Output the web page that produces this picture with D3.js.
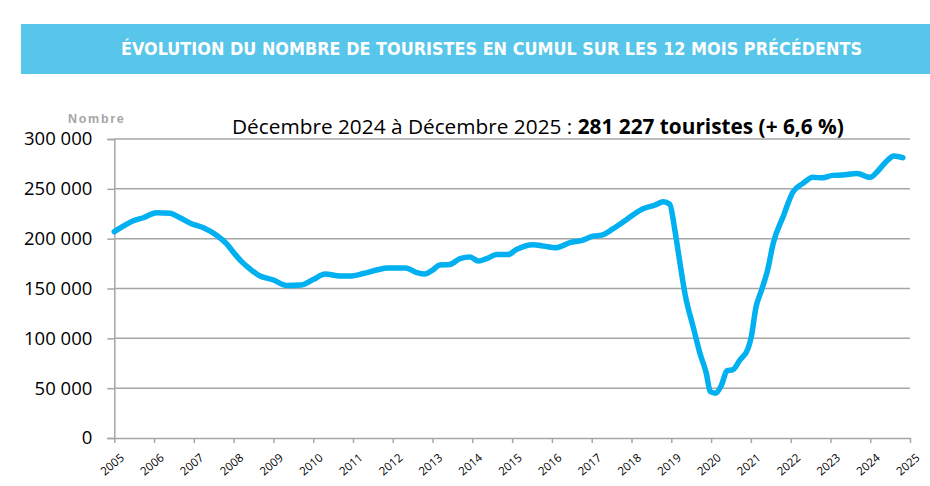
<!DOCTYPE html>
<html>
<head>
<meta charset="utf-8">
<script src="https://cdn.jsdelivr.net/npm/d3@7"></script>
<style>
  body { margin: 0; background: #fff; }
  svg { display: block; }
</style>
</head>
<body>
<svg id="chart"></svg>
<script>
// Cumul 12 mois glissants (année décimale / nombre de touristes)
const years = [
  2005.00, 2005.25, 2005.48, 2005.73, 2006.06, 2006.40, 2006.65, 2006.94,
  2007.24, 2007.57, 2007.82, 2008.00, 2008.20, 2008.40, 2008.62, 2009.00,
  2009.33, 2009.70, 2010.00, 2010.30, 2010.67, 2010.92, 2011.26, 2011.59,
  2011.88, 2012.32, 2012.60, 2012.80, 2013.00, 2013.18, 2013.43, 2013.69,
  2013.94, 2014.15, 2014.36, 2014.61, 2014.90, 2015.10, 2015.53, 2015.80,
  2016.10, 2016.45, 2016.78, 2017.03, 2017.25, 2017.54, 2017.87, 2018.29,
  2018.58, 2018.80, 2018.96, 2019.09, 2019.22, 2019.35, 2019.55, 2019.72,
  2019.88, 2019.98, 2020.12, 2020.26, 2020.40, 2020.55, 2020.72, 2020.93,
  2021.01, 2021.13, 2021.27, 2021.43, 2021.56, 2021.81, 2022.06, 2022.31,
  2022.56, 2022.80, 2023.05, 2023.30, 2023.67, 2024.00, 2024.17, 2024.38,
  2024.60, 2024.82
];
const touristes = [
  207000, 213000, 218000, 221000, 226000, 225500, 221000, 215000,
  211000, 203500, 195000, 186000, 177000, 170000, 163500, 158500,
  153000, 153500, 159000, 164500, 162500, 162500, 165000, 168500,
  170500, 170500, 166000, 164500, 168500, 173500, 174000, 180000,
  181500, 177500, 180000, 184000, 184000, 189000, 194000, 192500,
  191000, 196000, 198500, 202500, 203500, 210000, 219000, 230000,
  233500, 237000, 234500, 208500, 175000, 143500, 111500, 85000,
  65000, 46500, 45000, 53000, 67500, 68500, 78000, 90000,
  101500, 131500, 148500, 170000, 195000, 222000, 247000, 255500,
  261500, 261000, 263500, 263800, 265500, 261500, 267000, 276500,
  283000, 281227
];
const yTicks = [0, 50000, 100000, 150000, 200000, 250000, 300000];
const xTicks = d3.range(2005, 2026);

const titre = "ÉVOLUTION DU NOMBRE DE TOURISTES EN CUMUL SUR LES 12 MOIS PRÉCÉDENTS";
const sousTitreA = "Décembre 2024 à Décembre 2025 : ";
const sousTitreB = "281 227 touristes (+ 6,6 %)";

const width = 930, height = 486;
const svg = d3.select("#chart").attr("width", width).attr("height", height);

// Bandeau titre
svg.append("rect")
  .attr("x", 21).attr("y", 24).attr("width", width - 21).attr("height", 50)
  .attr("fill", "#58c5ea");
svg.append("text")
  .attr("x", 121).attr("y", 55)
  .attr("fill", "#fff")
  .attr("font-family", "DejaVu Sans Condensed, DejaVu Sans, sans-serif")
  .attr("font-weight", 600)
  .attr("font-size", 17)
  .attr("textLength", 741)
  .attr("lengthAdjust", "spacingAndGlyphs")
  .text(titre);

// Scales
const x = d3.scaleLinear().domain([2005, 2025]).range([114.3, 910]);
const y = d3.scaleLinear().domain([0, 300000]).range([438, 139]);

// Grille horizontale
svg.append("g")
  .selectAll("line")
  .data(yTicks.filter(d => d > 0))
  .enter().append("line")
  .attr("x1", x(2005)).attr("x2", x(2025))
  .attr("y1", d => y(d)).attr("y2", d => y(d))
  .attr("stroke", "#a6a6a6")
  .attr("stroke-width", 1.5);

// Axe Y
const fmt = d => d3.format(",")(d).replace(/,/g, " ");
const yAxis = svg.append("g")
  .attr("transform", `translate(${x(2005)},0)`)
  .call(d3.axisLeft(y).tickValues(yTicks).tickFormat(fmt).tickSize(7).tickPadding(15));
yAxis.select(".domain").attr("stroke", "#a6a6a6").attr("stroke-width", 1.5);
yAxis.selectAll(".tick line").attr("stroke", "#a6a6a6").attr("stroke-width", 1.5);
yAxis.selectAll(".tick text")
  .attr("font-family", "Open Sans, sans-serif")
  .attr("font-size", 18.5)
  .attr("fill", "#000");

// Axe X
const xAxis = svg.append("g")
  .attr("transform", `translate(0,${y(0)})`)
  .call(d3.axisBottom(x).tickValues(xTicks).tickFormat(d3.format("d")).tickSize(5).tickSizeOuter(0));
xAxis.select(".domain").attr("stroke", "#a6a6a6").attr("stroke-width", 1.5);
xAxis.selectAll(".tick line").attr("stroke", "#a6a6a6").attr("stroke-width", 1.5);
xAxis.selectAll(".tick text")
  .attr("font-family", "Open Sans, sans-serif")
  .attr("font-size", 11.5)
  .attr("fill", "#000")
  .attr("text-anchor", "end")
  .attr("dy", 0)
  .attr("transform", "translate(5,15) rotate(-40)");

// "Nombre"
svg.append("text")
  .attr("x", 68).attr("y", 123)
  .attr("fill", "#a6a6a6")
  .attr("font-family", "Liberation Sans, sans-serif")
  .attr("font-weight", "bold")
  .attr("font-size", 12.5)
  .attr("letter-spacing", 1.7)
  .text("Nombre");

// Sous-titre
const st = svg.append("text")
  .attr("x", 232).attr("y", 134)
  .attr("font-family", "Open Sans, sans-serif")
  .attr("font-size", 19)
  .attr("fill", "#000");
st.append("tspan").text(sousTitreA);
st.append("tspan").attr("font-weight", "bold").text(sousTitreB);
const w = st.node().getComputedTextLength();
st.attr("font-size", 19 * 612 / w);

// Courbe
const data = years.map((yr, i) => ({ yr, v: touristes[i] }));
const line = d3.line()
  .x(d => x(d.yr))
  .y(d => y(d.v))
  .curve(d3.curveMonotoneX);
svg.append("path")
  .datum(data)
  .attr("d", line)
  .attr("fill", "none")
  .attr("stroke", "#00b0f0")
  .attr("stroke-width", 5.5)
  .attr("stroke-linejoin", "round")
  .attr("stroke-linecap", "round");
</script>
</body>
</html>
